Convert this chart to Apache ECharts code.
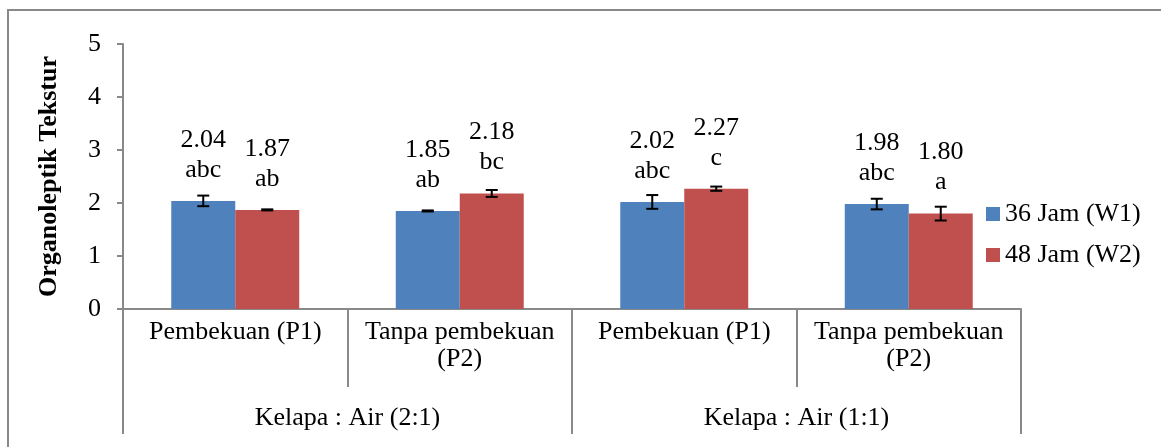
<!DOCTYPE html>
<html>
<head>
<meta charset="utf-8">
<script src="https://cdn.jsdelivr.net/npm/echarts@6/dist/echarts.min.js"></script>
<style>html,body{margin:0;padding:0;background:#fff;}#c{width:1161px;height:447px;}</style>
</head>
<body>
<div id="c"></div>
<script>
const categories = ['Pembekuan (P1)', 'Tanpa pembekuan\n(P2)', 'Pembekuan (P1)', 'Tanpa pembekuan\n(P2)'];
const groups = ['Kelapa : Air (2:1)', 'Kelapa : Air (1:1)'];
const seriesNames = ['36 Jam (W1)', '48 Jam (W2)'];
const w1Values = [2.04, 1.85, 2.02, 1.98];
const w2Values = [1.87, 2.18, 2.27, 1.80];
const w1Errors = [0.10, 0.01, 0.13, 0.10];
const w2Errors = [0.01, 0.065, 0.04, 0.13];
const w1Letters = ['abc', 'ab', 'abc', 'abc'];
const w2Letters = ['ab', 'bc', 'c', 'a'];
const yTicks = [0, 1, 2, 3, 4, 5];

const FONT = 'Liberation Serif';
const GRAY = '#898989';
const CAT_GAP = 0.43;

function errSeries(values, errors, side) {
  return {
    type: 'custom',
    xAxisIndex: 0,
    z: 10,
    silent: true,
    data: values.map((v, i) => [i, v, errors[i]]),
    renderItem: function (params, api) {
      const x = api.value(0), v = api.value(1), e = api.value(2);
      const bw = api.size([1, 0])[0] * (1 - CAT_GAP) / 2;
      const cx = api.coord([x, v])[0] + side * bw / 2;
      const top = api.coord([x, v + e])[1];
      const bot = api.coord([x, v - e])[1];
      const hw = 6;
      const st = { stroke: '#000', lineWidth: 2 };
      return {
        type: 'group',
        children: [
          { type: 'line', shape: { x1: cx, y1: top, x2: cx, y2: bot }, style: st },
          { type: 'line', shape: { x1: cx - hw, y1: top, x2: cx + hw, y2: top }, style: st },
          { type: 'line', shape: { x1: cx - hw, y1: bot, x2: cx + hw, y2: bot }, style: st }
        ]
      };
    }
  };
}

function barSeries(name, values, letters, color) {
  return {
    name: name,
    type: 'bar',
    xAxisIndex: 0,
    data: values,
    barGap: '0%',
    barCategoryGap: (CAT_GAP * 100) + '%',
    itemStyle: { color: color },
    label: {
      show: true,
      position: 'top',
      distance: 16,
      fontFamily: FONT,
      fontSize: 26,
      lineHeight: 30,
      color: '#000',
      align: 'center',
      formatter: p => values[p.dataIndex].toFixed(2) + '\n' + letters[p.dataIndex]
    }
  };
}

const chart = echarts.init(document.getElementById('c'), null, { renderer: 'canvas' });
chart.setOption({
  animation: false,
  backgroundColor: '#fff',
  textStyle: { fontFamily: FONT },
  graphic: [{
    type: 'rect',
    shape: { x: 8, y: 10, width: 1400, height: 700 },
    style: { fill: 'none', stroke: GRAY, lineWidth: 2 },
    z: -1
  }],
  grid: { left: 123, right: 140, top: 44, bottom: 138, containLabel: false },
  legend: {
    orient: 'vertical',
    left: 981,
    top: 196,
    itemWidth: 14,
    itemHeight: 14,
    itemGap: 15,
    itemStyle: { borderWidth: 0 },
    icon: 'rect',
    textStyle: { fontFamily: FONT, fontSize: 26, color: '#000' },
    data: seriesNames
  },
  xAxis: [{
    type: 'category',
    data: categories,
    position: 'bottom',
    offset: 0,
    axisLine: { show: true, lineStyle: { color: GRAY, width: 2 } },
    axisTick: { show: true, length: 78, interval: 0, lineStyle: { color: GRAY, width: 2 } },
    axisLabel: { interval: 0, margin: 10, fontFamily: FONT, fontSize: 26, lineHeight: 27, color: '#000' }
  }, {
    type: 'category',
    data: groups,
    position: 'bottom',
    offset: 0,
    axisLine: { show: false },
    axisTick: { show: true, length: 125, interval: 0, lineStyle: { color: GRAY, width: 2 } },
    axisLabel: { interval: 0, margin: 96, fontFamily: FONT, fontSize: 26, color: '#000' }
  }],
  yAxis: {
    type: 'value',
    min: yTicks[0],
    max: yTicks[yTicks.length - 1],
    interval: 1,
    name: 'Organoleptik Tekstur',
    nameLocation: 'middle',
    nameRotate: 90,
    nameGap: 61,
    nameTextStyle: { fontFamily: FONT, fontSize: 26, fontWeight: 'bold', color: '#000' },
    axisLine: { show: true, lineStyle: { color: GRAY, width: 2 } },
    axisTick: { show: true, length: 6, lineStyle: { color: GRAY, width: 2 } },
    splitLine: { show: false },
    axisLabel: { margin: 22, fontFamily: FONT, fontSize: 26, color: '#000' }
  },
  series: [
    barSeries(seriesNames[0], w1Values, w1Letters, '#4F81BD'),
    barSeries(seriesNames[1], w2Values, w2Letters, '#C0504D'),
    errSeries(w1Values, w1Errors, -1),
    errSeries(w2Values, w2Errors, 1)
  ]
});
</script>
</body>
</html>
